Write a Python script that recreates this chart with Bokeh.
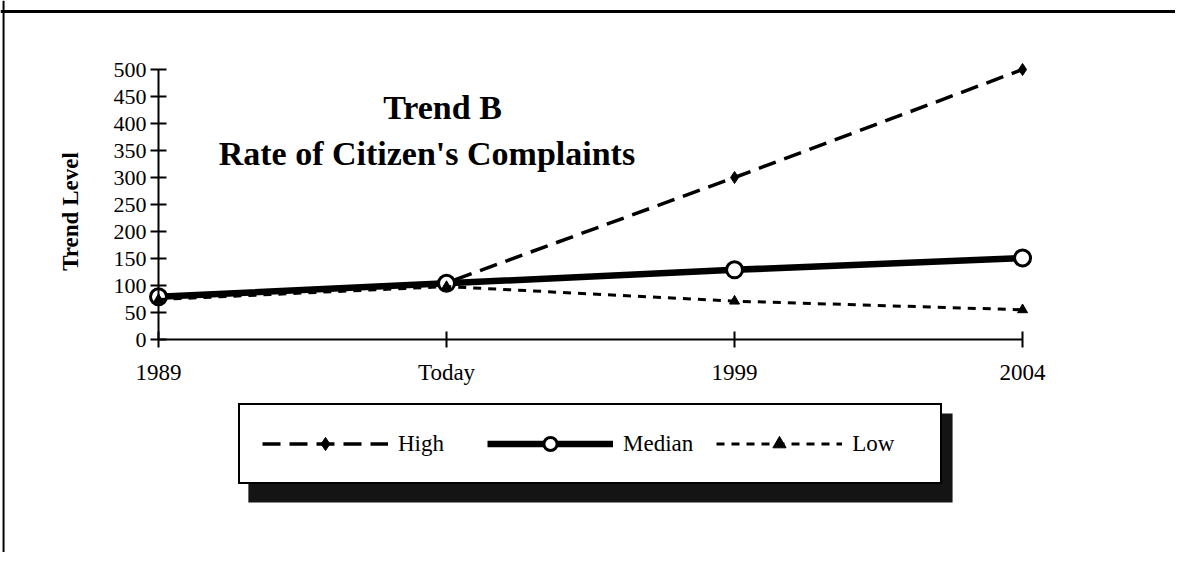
from bokeh.plotting import figure
from bokeh.models import (Range1d, FixedTicker, Label, Span, BoxAnnotation,
                          Legend, LegendItem)
from bokeh.embed import file_html
from bokeh.resources import INLINE

# ---- data ----
categories = ["1989", "Today", "1999", "2004"]
high = [80, 105, 300, 500]
median = [79, 104, 129, 151]
low = [74, 98, 71, 55]
y_ticks = [0, 50, 100, 150, 200, 250, 300, 350, 400, 450, 500]
title_lines = ["Trend B", "Rate of Citizen's Complaints"]
y_label = "Trend Level"

xs = list(range(len(categories)))

W, H = 1175, 552
SERIF = "Liberation Serif"

p = figure(width=W, height=H, output_backend="svg", toolbar_location=None,
           x_range=Range1d(-0.5486, 3.531), y_range=Range1d(-394.44, 627.78),
           min_border=0, title=None)
p.outline_line_color = None
p.xgrid.visible = False
p.ygrid.visible = False
p.background_fill_color = "white"
p.border_fill_color = "white"

# axes
xa = p.xaxis[0]
xa.fixed_location = 0
xa.bounds = (0, len(categories) - 1)
xa.ticker = FixedTicker(ticks=xs)
xa.major_label_overrides = {i: c for i, c in enumerate(categories)}
xa.major_tick_in = 8
xa.major_tick_out = 8
xa.major_tick_line_width = 2
xa.axis_line_width = 2
xa.major_label_standoff = 12
xa.major_label_text_font = SERIF
xa.major_label_text_font_size = "23px"
xa.major_label_text_color = "black"

ya = p.yaxis[0]
ya.fixed_location = 0
ya.bounds = (y_ticks[0], y_ticks[-1])
ya.ticker = FixedTicker(ticks=y_ticks)
ya.major_tick_in = 8
ya.major_tick_out = 8
ya.major_tick_line_width = 2
ya.axis_line_width = 2
ya.major_label_standoff = 4
ya.major_label_text_font = SERIF
ya.major_label_text_font_size = "22px"
ya.major_label_text_color = "black"

# y label
p.add_layout(Label(x=-0.306, y=237, text=y_label, angle=1.5708,
                   text_font=SERIF, text_font_style="bold",
                   text_font_size="23px", text_align="center",
                   text_baseline="middle", text_color="black"))

# title
p.add_layout(Label(x=0.986, y=430, text=title_lines[0], text_font=SERIF,
                   text_font_style="bold", text_font_size="34px",
                   text_align="center", text_baseline="middle",
                   text_color="black"))
p.add_layout(Label(x=0.932, y=344, text=title_lines[1], text_font=SERIF,
                   text_font_style="bold", text_font_size="34px",
                   text_align="center", text_baseline="middle",
                   text_color="black"))

# series
hl = p.line(xs, high, line_color="black", line_width=3.5, line_dash="18 9")
hp = p.scatter(xs, high, marker="diamond", size=12, fill_color="black",
               line_color="black")
ml = p.line(xs, median, line_color="black", line_width=6.5)
mp = p.scatter(xs, median, marker="circle", size=16, fill_color="white",
               line_color="black", line_width=3)
ll = p.line(xs, low, line_color="black", line_width=3, line_dash="8 7")
lp = p.scatter(xs, low, marker="triangle", size=10, fill_color="black",
               line_color="black")

# outer frame (top and left)
p.add_layout(Span(location=607.4, dimension="width", line_color="black",
                  line_width=3))
p.add_layout(Span(location=-0.538, dimension="height", line_color="black",
                  line_width=2))

# legend shadow
p.add_layout(BoxAnnotation(left=0.312, right=2.757, top=-137, bottom=-302,
                           fill_color="#141414", fill_alpha=1.0,
                           line_color=None))

legend = Legend(items=[LegendItem(label="High", renderers=[hl, hp]),
                       LegendItem(label="Median", renderers=[ml, mp]),
                       LegendItem(label="Low", renderers=[ll, lp])],
                orientation="horizontal", location=(238, 68))
legend.glyph_width = 126
legend.glyph_height = 33
legend.label_standoff = 10
legend.label_width = 66
legend.spacing = 23
legend.padding = 22
legend.margin = 0
legend.label_text_font = SERIF
legend.label_text_font_size = "23px"
legend.label_text_color = "black"
legend.label_height = 33
legend.border_line_color = "black"
legend.border_line_alpha = 1.0
legend.border_line_width = 2.5
legend.background_fill_color = "white"
legend.background_fill_alpha = 1.0
p.add_layout(legend)

open("out.html", "w").write(file_html(p, INLINE))
